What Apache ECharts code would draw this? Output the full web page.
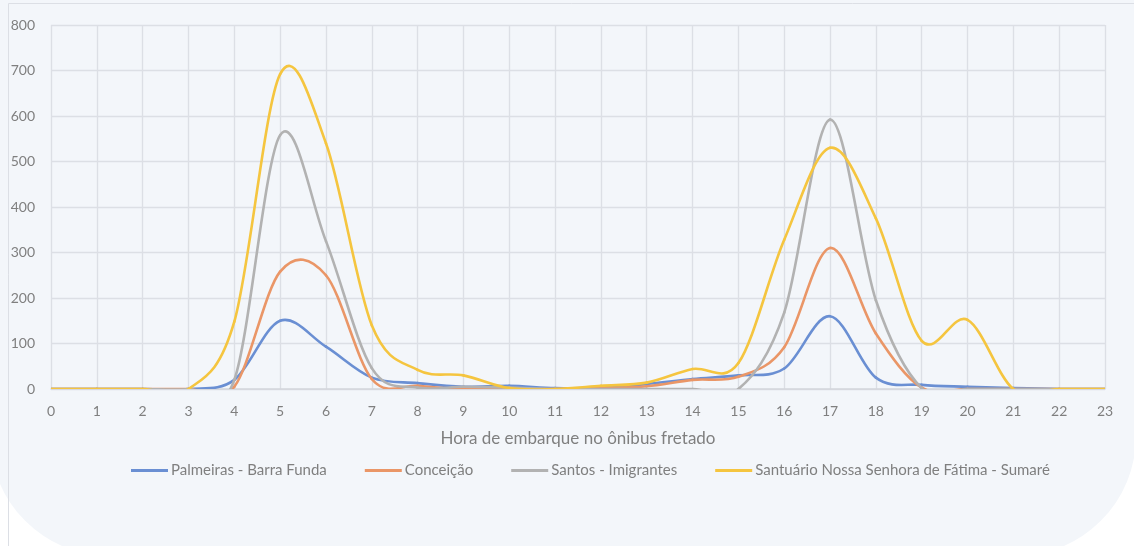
<!DOCTYPE html>
<html>
<head>
<meta charset="utf-8">
<script src="https://cdn.jsdelivr.net/npm/echarts@6/dist/echarts.min.js"></script>
<style>
  html, body { margin: 0; padding: 0; background: #ffffff; }
  #chart { width: 1134px; height: 546px; }
</style>
</head>
<body>
<div id="chart"></div>
<script>
const hours = ['0','1','2','3','4','5','6','7','8','9','10','11','12','13','14','15','16','17','18','19','20','21','22','23'];
const seriesNames = ['Palmeiras - Barra Funda', 'Conceição', 'Santos - Imigrantes', 'Santuário Nossa Senhora de Fátima - Sumaré'];
const palmeiras = [0,0,0,0,20,150,93,25,13,5,7,2,3,11,22,30,45,160,25,9,5,2,0,0];
const conceicao = [0,0,0,0,5,258,250,22,7,0,0,0,2,6,20,27,92,310,122,3,0,0,0,0];
const santos    = [0,0,0,0,20,558,325,46,3,5,3,0,0,0,0,0,168,592,195,2,0,0,0,0];
const santuario = [0,0,0,0,148,692,540,140,42,30,2,0,7,14,44,57,328,530,375,106,152,0,0,0];
const yTicks = [0,100,200,300,400,500,600,700,800];
const xAxisTitle = 'Hora de embarque no ônibus fretado';

const colors = ['#6a8fd3', '#ea9667', '#b2b2b2', '#f5c53f'];
const values = [palmeiras, conceicao, santos, santuario];
const FONT = 'Lato';

// Smoothed segment (Catmull-Rom style, like spreadsheet smoothed lines),
// positioned through the chart's own coordinate system.
function makeRenderItem(arr, color) {
  return function (params, api) {
    const i = params.dataIndex;
    const n = arr.length;
    if (i >= n - 1) return null;
    const c = (k) => api.coord([Math.max(0, Math.min(n - 1, k)), arr[Math.max(0, Math.min(n - 1, k))]]);
    const p0 = c(i - 1), p1 = c(i), p2 = c(i + 1), p3 = c(i + 2);
    const t = 1 / 6;
    const cp1 = [p1[0] + (p2[0] - p0[0]) * t, p1[1] + (p2[1] - p0[1]) * t];
    const cp2 = [p2[0] - (p3[0] - p1[0]) * t, p2[1] - (p3[1] - p1[1]) * t];
    const d = 'M' + p1[0] + ',' + p1[1] + ' C' + cp1[0] + ',' + cp1[1] + ' ' + cp2[0] + ',' + cp2[1] + ' ' + p2[0] + ',' + p2[1];
    return {
      type: 'path',
      shape: { pathData: d },
      style: { stroke: color, fill: null, lineWidth: 2.6, lineCap: 'round', lineJoin: 'round' }
    };
  };
}

const chart = echarts.init(document.getElementById('chart'), null, {renderer: 'canvas'});
chart.setOption({
  animation: false,
  backgroundColor: '#ffffff',
  textStyle: { fontFamily: FONT },
  graphic: {
    elements: [
      {
        type: 'rect', z: -10, silent: true,
        shape: { x: -10, y: -10, width: 1146, height: 566, r: [0, 0, 120, 120] },
        style: { fill: '#f3f6fa' }
      },
      {
        type: 'line', z: -9, silent: true,
        shape: { x1: 8.5, y1: 3.5, x2: 1134, y2: 3.5 },
        style: { stroke: '#dcdfe5', lineWidth: 1 }
      },
      {
        type: 'line', z: -9, silent: true,
        shape: { x1: 8.5, y1: 3.5, x2: 8.5, y2: 546 },
        style: { stroke: '#dcdfe5', lineWidth: 1 }
      }
    ]
  },
  grid: { left: 51, right: 29, top: 25, bottom: 157, containLabel: false },
  legend: {
    data: seriesNames.map((n) => ({ name: n, icon: 'rect' })),
    left: 126,
    top: 458,
    itemWidth: 37,
    itemHeight: 3,
    itemGap: 38,
    textStyle: { color: '#7f7f7f', fontSize: 15, fontFamily: FONT, padding: [0,0,0,-2] }
  },
  xAxis: {
    type: 'category',
    data: hours,
    boundaryGap: false,
    name: xAxisTitle,
    nameLocation: 'middle',
    nameGap: 41,
    nameTextStyle: { color: '#7f7f7f', fontSize: 17, fontFamily: FONT },
    axisLine: { show: true, lineStyle: { color: '#d3d6dc', width: 1.5 } },
    axisTick: { show: false },
    axisLabel: { color: '#7f7f7f', fontSize: 14, margin: 15, fontFamily: FONT },
    splitLine: { show: true, lineStyle: { color: '#dcdfe5', width: 1.3 } }
  },
  yAxis: {
    type: 'value',
    min: yTicks[0],
    max: yTicks[yTicks.length - 1],
    interval: 100,
    axisLine: { show: false },
    axisTick: { show: false },
    axisLabel: { color: '#7f7f7f', fontSize: 14, margin: 16, fontFamily: FONT },
    splitLine: { show: true, lineStyle: { color: '#dcdfe5', width: 1.3 } }
  },
  series: seriesNames.map((name, i) => ({
    name: name,
    type: 'custom',
    clip: true,
    data: values[i].map((v, k) => [k, v]),
    encode: { x: 0, y: 1 },
    itemStyle: { color: colors[i] },
    renderItem: makeRenderItem(values[i], colors[i]),
    z: 2 + i
  }))
});
</script>
</body>
</html>
